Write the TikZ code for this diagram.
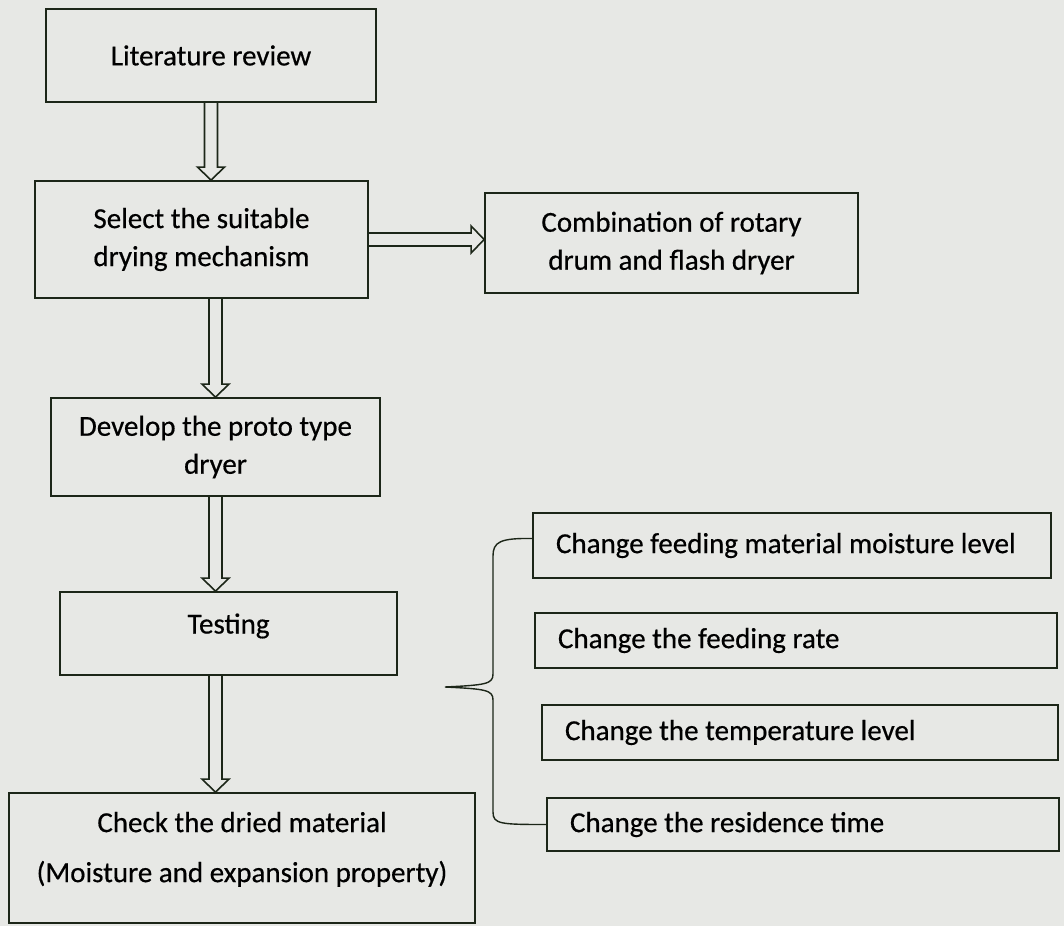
\documentclass[tikz,border=0pt]{standalone}
\usepackage{fontspec}
\setmainfont{Carlito}[FakeBold=0.5]
\usetikzlibrary{calc}

\definecolor{paper}{RGB}{231,232,229}
\definecolor{ink}{RGB}{28,38,24}

\tikzset{
	stage/.style={draw=ink, line width=0.9pt, fill=paper, align=center, inner sep=0pt},
	factor/.style={draw=ink, line width=0.9pt, fill=paper, align=flush left, inner xsep=11.5pt, inner ysep=0pt},
	flow/.style={draw=ink, line width=0.8pt, to path={
		($(\tikztostart)!3.25pt!90:(\tikztotarget)$)
		-- ($(\tikztotarget)!6.5pt!(\tikztostart)!3.25pt!-90:(\tikztostart)$)
		-- ($(\tikztotarget)!6.5pt!(\tikztostart)!6.75pt!-90:(\tikztostart)$)
		-- (\tikztotarget)
		-- ($(\tikztotarget)!6.5pt!(\tikztostart)!6.75pt!90:(\tikztostart)$)
		-- ($(\tikztotarget)!6.5pt!(\tikztostart)!3.25pt!90:(\tikztostart)$)
		-- ($(\tikztostart)!3.25pt!-90:(\tikztotarget)$)}},
	brace/.style={draw=ink, line width=0.7pt}
}

\begin{document}
\begin{tikzpicture}[x=0.5pt, y=-0.5pt, font=\fontsize{14.5pt}{19pt}\selectfont]
	\fill[paper] (0,0) rectangle (1064,926);
	% main steps
	\node[stage, minimum width=165pt, minimum height=46.5pt] (lit) at (211,55.5) {Literature review};
	\node[stage, minimum width=166.5pt, minimum height=58.5pt] (sel) at (201.5,239.5) {Select the suitable\\drying mechanism};
	\node[stage, minimum width=186.5pt, minimum height=50pt] (comb) at (671.5,243) {Combination of rotary\\drum and flash dryer};
	\node[stage, minimum width=164.5pt, minimum height=49pt] (dev) at (215.5,447) {Develop the proto type\\dryer};
	\node[stage, minimum width=168.5pt, minimum height=41.5pt, text depth=10pt] (test) at (228.5,633.5) {Testing};
	\node[stage, minimum width=233pt, minimum height=65pt, text depth=11pt] (check) at (242,858) {Check the dried material\\[6pt](Moisture and expansion property)};
	% test parameters
	\node[factor, text width=236pt, minimum height=32.5pt] (fb1) at (792,545.5) {Change feeding material moisture level};
	\node[factor, text width=238pt, minimum height=27.5pt] (fb2) at (796,640.5) {Change the feeding rate};
	\node[factor, text width=235pt, minimum height=27.5pt] (fb3) at (800,732.5) {Change the temperature level};
	\node[factor, text width=233pt, minimum height=26.5pt] (fb4) at (803,824.5) {Change the residence time};
	% arrow ends
	\coordinate (in1) at (lit.south |- sel.north);
	\coordinate (out2) at (sel.south -| dev.north);
	\coordinate (in2) at (sel.east -| comb.west);
	\coordinate (in4) at (dev.south |- test.north);
	\coordinate (out5) at (test.south -| dev.south);
	\coordinate (in5) at (dev.south |- check.north);
	% arrows
	\draw[flow] (lit.south) to (in1);
	\draw[flow] (sel.east) to (in2);
	\draw[flow] (out2) to (dev.north);
	\draw[flow] (dev.south) to (in4);
	\draw[flow] (out5) to (in5);
	% bracket
	\coordinate (tip) at (445,687);
	\draw[brace] ([yshift=3.5pt]fb1.west) .. controls (500,538) and (493,542) .. (493,556) -- (493,674)
		.. controls (493,684) and (486,685) .. (tip)
		.. controls (486,689) and (493,690) .. (493,700) -- (493,812)
		.. controls (493,824) and (500,824.5) .. (fb4.west);
\end{tikzpicture}
\end{document}
